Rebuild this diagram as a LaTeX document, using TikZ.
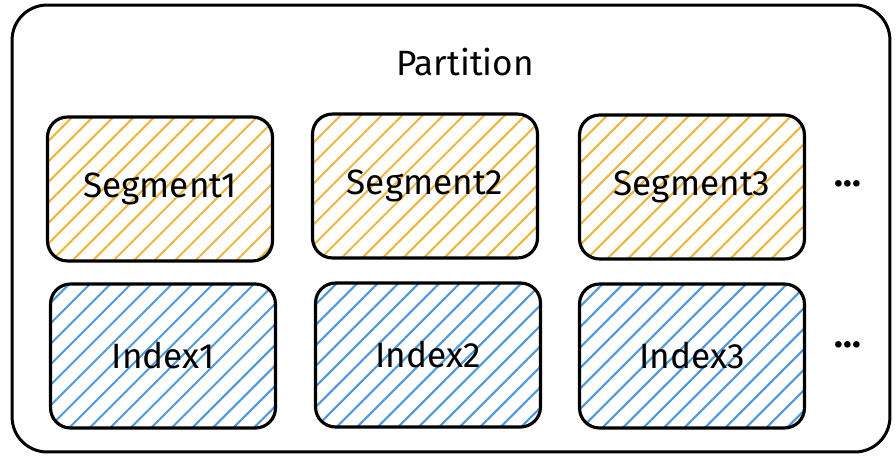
\documentclass[tikz,border=0pt]{standalone}
\usepackage{fontspec}
\setmainfont{Fira Sans}
\usetikzlibrary{patterns.meta}
\definecolor{segorange}{RGB}{238,182,62}
\definecolor{idxblue}{RGB}{78,152,222}
\begin{document}
\begin{tikzpicture}[
    x=0.02cm, y=-0.02cm,
    % Box styles (partition frame, segments and indexes)
    frame/.style={draw=black, line width=1.7pt, rounded corners=0.7cm, minimum width=17.56cm, minimum height=8.94cm, inner sep=0pt},
    part/.style={pattern={Lines[angle=45, distance=0.29cm, line width=1.2pt]}, pattern color=#1, draw=black, line width=1.8pt, rounded corners=0.4cm, minimum width=4.5cm, minimum height=2.88cm, inner sep=0pt, font=\fontsize{20}{24}\selectfont},
    more/.style={font=\bfseries\huge, inner sep=0pt}
]
\useasboundingbox (0,0) rectangle (896,456);

% ---------------------------------------------------------
% 1. PARTITION FRAME
% ---------------------------------------------------------
\node[frame] (partition) at (451,228.5) {};
\node[font=\fontsize{20}{24}\selectfont] (title) at (465,62) {Partition};

% ---------------------------------------------------------
% 2. SEGMENTS (top row)
% ---------------------------------------------------------
\node[part=segorange] (seg1) at (160,189) {Segment1};
\node[part=segorange] (seg2) at (425,186) {Segment2};
\node[part=segorange] (seg3) at (692,187) {Segment3};
\node[more] (segmore) at (848,184) {...};

% ---------------------------------------------------------
% 3. INDEXES (bottom row)
% ---------------------------------------------------------
\node[part=idxblue] (idx1) at (163,356) {Index1};
\node[part=idxblue] (idx2) at (428,355) {Index2};
\node[part=idxblue] (idx3) at (692,356) {Index3};
\node[more] (idxmore) at (848,345) {...};

\end{tikzpicture}
\end{document}
